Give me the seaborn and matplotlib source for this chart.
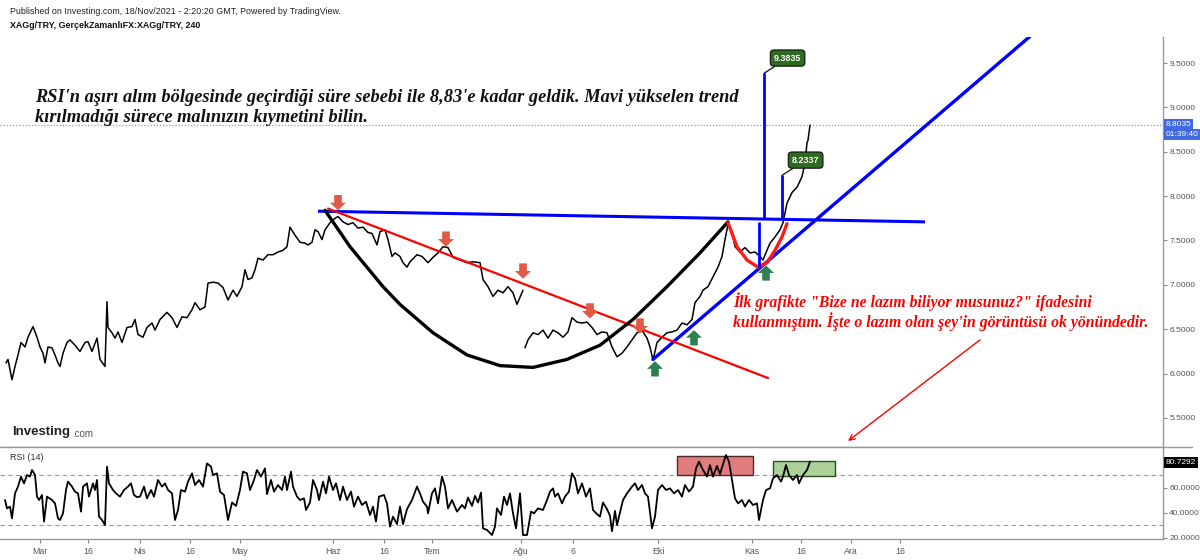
import pandas as pd
import matplotlib
matplotlib.use("Agg")
import matplotlib.pyplot as plt
import seaborn as sns
from matplotlib.lines import Line2D

# ---- price (4h closes; x = bar position on the time axis)
price_bar = [6, 8, 12, 15, 18, 21, 25, 28, 33, 37, 40, 43, 45, 48, 52, 55, 58, 60, 63, 67,
             70, 75, 80, 85, 88, 92, 97, 100, 105, 107, 108, 112, 115, 118, 122, 127, 132, 135, 138, 143,
             147, 152, 155, 160, 167, 172, 177, 182, 187, 192, 195, 200, 205, 208, 213, 218, 223, 228, 233, 237,
             242, 245, 248, 252, 255, 258, 263, 268, 273, 278, 283, 287, 290, 295, 300, 305, 308, 312, 315, 318,
             322, 325, 330, 335, 338, 343, 348, 353, 358, 363, 368, 372, 377, 380, 385, 388, 392, 395, 400, 403,
             407, 410, 417, 422, 428, 433, 438, 443, 448, 453, 460, 467, 473, 480, 483, 488, 493, 498, 503, 508,
             513, 517, 520, 523, 525, 528, 533, 538, 543, 548, 553, 558, 563, 568, 572, 577, 582, 587, 592, 597,
             602, 607, 612, 617, 622, 627, 632, 637, 642, 647, 650, 653, 657, 662, 667, 672, 677, 682, 687, 692,
             695, 700, 703, 708, 713, 718, 722, 725, 728, 732, 735, 740, 745, 750, 755, 760, 763, 767, 770, 775,
             780, 783, 787, 792, 797, 802, 805, 807, 808, 810]
price_close = [6.12, 6.16, 5.93, 6.08, 6.21, 6.35, 6.30, 6.41, 6.53, 6.41, 6.30, 6.23, 6.12, 6.30, 6.29, 6.21, 6.12, 6.08, 6.23, 6.35,
               6.38, 6.32, 6.25, 6.35, 6.36, 6.25, 6.40, 6.16, 6.08, 6.81, 6.52, 6.46, 6.40, 6.47, 6.35, 6.52, 6.53, 6.61, 6.44, 6.41,
               6.52, 6.57, 6.49, 6.61, 6.69, 6.63, 6.52, 6.64, 6.63, 6.72, 6.80, 6.72, 6.75, 7.02, 7.03, 7.02, 6.97, 6.83, 6.94, 6.87,
               6.98, 7.17, 7.06, 7.08, 7.17, 7.30, 7.28, 7.34, 7.34, 7.37, 7.39, 7.43, 7.65, 7.56, 7.48, 7.47, 7.45, 7.48, 7.62, 7.60,
               7.51, 7.62, 7.70, 7.75, 7.77, 7.71, 7.68, 7.70, 7.64, 7.65, 7.59, 7.58, 7.45, 7.60, 7.62, 7.51, 7.32, 7.36, 7.32, 7.25,
               7.20, 7.26, 7.34, 7.32, 7.25, 7.31, 7.36, 7.43, 7.42, 7.31, 7.28, 7.25, 7.26, 7.25, 7.06, 6.98, 6.87, 6.94, 6.91, 6.98,
               6.91, 6.78, 6.86, 6.94, 6.29, 6.38, 6.46, 6.44, 6.49, 6.40, 6.49, 6.46, 6.41, 6.47, 6.63, 6.58, 6.57, 6.58, 6.52, 6.44,
               6.47, 6.46, 6.30, 6.19, 6.23, 6.30, 6.38, 6.46, 6.49, 6.40, 6.30, 6.15, 6.35, 6.41, 6.46, 6.47, 6.49, 6.57, 6.55, 6.61,
               6.80, 6.87, 6.94, 6.98, 7.09, 7.20, 7.32, 7.51, 7.68, 7.60, 7.43, 7.37, 7.42, 7.36, 7.37, 7.32, 7.28, 7.39, 7.47, 7.54,
               7.62, 7.70, 7.92, 8.04, 8.10, 8.22, 8.37, 8.60, 8.63, 8.80]
last_price = 8.8035
data_gap_after = 523  # missing bars end of July

# ---- RSI(14)
rsi_bar = [5, 7, 10, 12, 15, 18, 21, 24, 27, 30, 32, 35, 37, 39, 42, 44, 47, 52, 55, 58,
           60, 63, 66, 68, 72, 75, 78, 81, 83, 87, 89, 93, 95, 97, 99, 102, 105, 107, 109, 113,
           116, 120, 124, 128, 131, 134, 137, 140, 144, 147, 151, 154, 158, 162, 165, 168, 172, 175, 178, 181,
           185, 188, 192, 195, 199, 203, 207, 211, 213, 217, 220, 224, 228, 232, 236, 240, 243, 247, 250, 254,
           257, 261, 265, 267, 271, 274, 278, 282, 285, 287, 291, 293, 297, 300, 304, 306, 310, 313, 317, 319,
           323, 326, 329, 333, 336, 340, 343, 347, 351, 354, 358, 362, 366, 370, 373, 376, 379, 384, 387, 390,
           393, 397, 400, 403, 407, 412, 417, 420, 423, 427, 428, 432, 435, 438, 442, 445, 448, 452, 457, 462,
           465, 468, 472, 475, 478, 481, 483, 487, 492, 495, 497, 501, 504, 507, 510, 513, 516, 520, 523, 527,
           531, 534, 538, 543, 547, 550, 553, 555, 558, 562, 565, 569, 572, 575, 578, 582, 586, 590, 593, 597,
           600, 603, 607, 610, 612, 615, 617, 621, 623, 627, 632, 635, 638, 642, 645, 648, 652, 655, 658, 662,
           666, 670, 674, 678, 682, 685, 689, 693, 696, 699, 703, 707, 710, 713, 717, 720, 723, 726, 729, 732,
           735, 738, 742, 745, 749, 753, 757, 759, 763, 766, 770, 773, 777, 781, 783, 786, 789, 793, 797, 799,
           803, 807, 810]
rsi_value = [50, 43.3, 44.7, 35.3, 55.3, 60.7, 68.7, 63.3, 70, 68.7, 74, 70, 52.7, 50, 54, 32.7, 52.7, 50, 47.3, 35.3,
             34, 39.3, 58, 64.7, 60.7, 56.7, 55.3, 40.7, 60.7, 63.3, 52.7, 63.3, 58, 66, 36.7, 34, 30, 76.7, 63.3, 58,
             55.3, 52.7, 58, 60.7, 63.3, 54, 52.3, 52.7, 60.7, 51.3, 58, 52.7, 66, 60.7, 63.3, 58, 55.3, 34, 42, 58,
             56.7, 64.7, 71.3, 62, 66, 60.7, 79.3, 76.7, 70, 71.3, 56.7, 54, 34, 48, 45.3, 58, 72.7, 71.3, 58, 66,
             74, 68.7, 75.3, 54.7, 66, 56.7, 62, 58, 68.7, 58, 72.7, 60.7, 52.7, 50, 51.3, 42, 48, 66, 58, 50,
             64.7, 55.3, 68.7, 58, 63.3, 50, 60.7, 50, 56.7, 44.7, 52.7, 46, 48.7, 38, 44.7, 32.7, 52.7, 54, 47.3, 28.7,
             36.7, 30.7, 44.7, 30.7, 42.7, 50, 60.7, 55.3, 48.7, 44.7, 39.3, 55.3, 59.3, 47.3, 68.7, 60.7, 43.3, 50, 40.7, 46,
             43.3, 52, 45.3, 53.3, 48, 56, 27.3, 26, 22, 28.7, 43.3, 38, 52.7, 46, 55.3, 39.3, 27.3, 55.3, 22, 22,
             40.7, 39.3, 43.3, 42, 50, 56.7, 59.3, 52.7, 55.3, 47.3, 52.7, 56.7, 71.3, 67.3, 55.3, 63.3, 52.7, 59.3, 42, 38.7,
             36.7, 48, 42.7, 37.3, 25, 41.3, 30, 43.3, 50, 55.3, 60.7, 63.3, 58, 62, 55.3, 52.7, 27.3, 36.7, 58, 62,
             58, 59.3, 55.3, 58, 52.7, 62, 56.7, 60.7, 75.3, 80.7, 74, 68.7, 78, 68.7, 77.3, 70.7, 78.7, 86, 80.7, 66,
             51.3, 47.3, 50, 44.7, 50, 46, 47.3, 34, 50, 58, 59.3, 67.3, 70, 64.7, 68.7, 78, 70, 66, 70, 63.3,
             70, 74, 80.7]
last_rsi = 80.7292

# ---- time axis labels (Turkish month abbreviations)
tick_bar = [40, 88, 140, 190, 240, 333, 384, 432, 521, 573, 658, 752, 801, 851, 900]
tick_label = ["Mar", "16", "Nis", "16", "May", "Haz", "16", "Tem", "Ağu", "6", "Eki", "Kas", "16", "Ara", "16"]
price_ticks = [5.5, 6.0, 6.5, 7.0, 7.5, 8.0, 8.5, 9.0, 9.5]
rsi_ticks = [20, 40, 60]

# ---- drawings on the chart
neck_bar, neck_price = [318, 925], [7.83, 7.71]          # blue neckline
trend_bar, trend_price = [653, 1030], [6.16, 9.80]       # blue rising trend
down_bar, down_price = [328, 768], [7.86, 5.95]          # red falling trend
cup_bar = [325, 350, 383, 400, 433, 467, 500, 533, 567, 600, 633, 667, 700, 728]
cup_price = [7.84, 7.43, 6.98, 6.78, 6.46, 6.21, 6.09, 6.07, 6.16, 6.32, 6.61, 6.98, 7.36, 7.71]
handle_bar = [728, 737, 747, 758, 767, 775, 782, 787]
handle_price = [7.70, 7.43, 7.28, 7.20, 7.25, 7.39, 7.54, 7.69]
measure_bar = [759, 764, 782]
measure_low = [7.20, 7.74, 7.74]
measure_high = [7.71, 9.3835, 8.2337]
sell_bar = [338, 446, 523, 590, 640]
sell_tip = [7.84, 7.43, 7.07, 6.62, 6.45]
buy_bar = [655, 694, 766]
buy_tip = [6.14, 6.49, 7.22]
red_zone = (677, 753, 69.8, 85.3)     # x0, x1, y0, y1 in RSI panel
green_zone = (773, 835, 69.0, 81.2)

W, H = 1200, 560


def fx(px):
    return px / W


def fy(py):
    return 1 - py / H


sns.set_style("white")
plt.rcParams['font.family'] = ['Liberation Sans', 'DejaVu Sans']

fig = plt.figure(figsize=(12, 5.6), dpi=100)
ax = fig.add_axes([0, fy(447), fx(1163), (447 - 37) / H])
ax_rsi = fig.add_axes([0, fy(539), fx(1163), (539 - 447) / H])

df_price = pd.DataFrame({'bar': price_bar, 'close': price_close})
df_price['seg'] = (df_price['bar'] > data_gap_after).astype(int)
sns.lineplot(data=df_price, x='bar', y='close', units='seg', estimator=None,
             color='black', lw=1.1, ax=ax, legend=False)

ax.axhline(last_price, color='#7d9be6', lw=0.9, ls=(0, (1, 1.5)), zorder=1)

# trend lines and patterns
ax.plot(neck_bar, neck_price, color='#0000ff', lw=2.2, solid_capstyle='butt')
ax.plot(trend_bar, trend_price, color='#0000ff', lw=2.4)
ax.plot(down_bar, down_price, color='#ff0000', lw=1.6)
ax.plot(cup_bar, cup_price, color='black', lw=2.4, solid_capstyle='round')
ax.plot(handle_bar, handle_price, color='#ff1a1a', lw=2.4, solid_capstyle='round')
ax.vlines(measure_bar, measure_low, measure_high, color='#0000ff', lw=2.0)
for b, hi in zip(measure_bar[1:], measure_high[1:]):
    ax.annotate(f"{hi:.4f}", xy=(b, hi), xytext=(17, 11), textcoords='offset points',
                ha='center', va='center', fontsize=6.5, color='white', fontweight='bold',
                bbox=dict(boxstyle='round,pad=0.4', fc='#2e6a1f', ec='#111111', lw=0.8),
                arrowprops=dict(arrowstyle='-', color='#222222', lw=1.0, shrinkA=0, shrinkB=0))

arrow_style = 'simple,head_length=0.55,head_width=1.15,tail_width=0.55'
for b, tip in zip(sell_bar, sell_tip):
    ax.annotate('', xy=(b, tip), xytext=(0, 11), textcoords='offset points',
                arrowprops=dict(arrowstyle=arrow_style, fc='#e05a45', ec='none',
                                mutation_scale=10, shrinkA=0, shrinkB=0))
for b, tip in zip(buy_bar, buy_tip):
    ax.annotate('', xy=(b, tip), xytext=(0, -11), textcoords='offset points',
                arrowprops=dict(arrowstyle=arrow_style, fc='#2f8050', ec='none',
                                mutation_scale=10, shrinkA=0, shrinkB=0))

ax.annotate('', xy=(848, 5.24), xytext=(980, 6.38),
            arrowprops=dict(arrowstyle='->', color='#ff0000', lw=1.0, shrinkA=0, shrinkB=0))

ax.set_xlim(0, 1163)
ax.set_ylim(5.173, 9.793)
ax.set_xticks([])
ax.set_yticks(price_ticks)
ax.set_yticklabels([f"{v:.4f}" for v in price_ticks])
ax.yaxis.tick_right()
ax.tick_params(axis='y', labelsize=6.0, labelcolor='#555555', color='#888888',
               length=3, width=0.8, pad=1.5, right=True)
ax.set_xlabel('')
ax.set_ylabel('')
for s in ['top', 'left']:
    ax.spines[s].set_visible(False)
for s in ['right', 'bottom']:
    ax.spines[s].set_color('#999999')
    ax.spines[s].set_linewidth(1.0)

# RSI panel
df_rsi = pd.DataFrame({'bar': rsi_bar, 'rsi': rsi_value})
sns.lineplot(data=df_rsi, x='bar', y='rsi', color='black', lw=1.3, ax=ax_rsi)
for lvl in [70, 30]:
    ax_rsi.axhline(lvl, color='#999999', lw=0.8, ls=(0, (4, 3)), zorder=0)
for (x0, x1, y0, y1), fc, ec in [(red_zone, '#e27d7d', '#4a2a2a'), (green_zone, '#acd29a', '#2f4a25')]:
    ax_rsi.add_patch(plt.Rectangle((x0, y0), x1 - x0, y1 - y0, fc=fc, ec=ec, lw=1.0, zorder=1))
ax_rsi.set_xlim(0, 1163)
ax_rsi.set_ylim(18.8, 92.4)
ax_rsi.set_yticks(rsi_ticks)
ax_rsi.set_yticklabels([f"{v:.4f}" for v in rsi_ticks])
ax_rsi.yaxis.tick_right()
ax_rsi.set_xticks(tick_bar)
ax_rsi.set_xticklabels(tick_label)
ax_rsi.tick_params(axis='both', labelsize=6.0, labelcolor='#555555', color='#888888',
                   length=3, width=0.8, pad=1.5)
ax_rsi.tick_params(axis='y', right=True, left=False)
ax_rsi.tick_params(axis='x', bottom=True, pad=3, labelsize=6.3)
ax_rsi.set_xlabel('')
ax_rsi.set_ylabel('')
for s in ['top', 'left']:
    ax_rsi.spines[s].set_visible(False)
for s in ['right', 'bottom']:
    ax_rsi.spines[s].set_color('#999999')
    ax_rsi.spines[s].set_linewidth(1.0)

# separator between panels
fig.add_artist(Line2D([0, fx(1192)], [fy(447), fy(447)], color='#999999', lw=1.0))

# price / rsi tags on the axis
tag = dict(fontsize=6.0, color='white', va='center')
fig.text(fx(1166), fy(124.5), f"{last_price:.4f}", bbox=dict(boxstyle='square,pad=0.2', fc='#4169e1', ec='none'), **tag)
fig.text(fx(1166), fy(134.5), "01:39:40", bbox=dict(boxstyle='square,pad=0.2', fc='#4169e1', ec='none'), **tag)
fig.text(fx(1166), fy(462.5), f"{last_rsi:.4f}", bbox=dict(boxstyle='square,pad=0.2', fc='black', ec='none'), **tag)

# header and labels
fig.text(fx(10), fy(12), "Published on Investing.com, 18/Nov/2021 - 2:20:20 GMT, Powered by TradingView.",
         fontsize=6.4, color='#222222', va='center')
fig.text(fx(10), fy(26), "XAGg/TRY, GerçekZamanlıFX:XAGg/TRY, 240",
         fontsize=6.4, color='#111111', fontweight='bold', va='center')
fig.text(fx(10), fy(458), "RSI (14)", fontsize=6.5, color='#333333', va='center')
fig.text(fx(12), fy(432), "Investing", fontsize=9.5, color='#222222', fontweight='bold', va='center')
fig.text(fx(72), fy(434), ".com", fontsize=7, color='#555555', va='center')

serif = ['Liberation Serif', 'DejaVu Serif']
fig.text(fx(35), fy(97), "RSI'n aşırı alım bölgesinde geçirdiği süre sebebi ile 8,83'e kadar geldik. Mavi yükselen trend",
         fontsize=13.2, family=serif, style='italic', fontweight='bold', color='#111111', va='center')
fig.text(fx(35), fy(117), "kırılmadığı sürece malınızın kıymetini bilin.",
         fontsize=13.2, family=serif, style='italic', fontweight='bold', color='#111111', va='center')
fig.text(fx(733), fy(302), "İlk grafikte \"Bize ne lazım biliyor musunuz?\" ifadesini",
         fontsize=11.3, family=serif, style='italic', fontweight='bold', color='#ff0000', va='center')
fig.text(fx(733), fy(322), "kullanmıştım. İşte o lazım olan şey'in görüntüsü ok yönündedir.",
         fontsize=11.3, family=serif, style='italic', fontweight='bold', color='#ff0000', va='center')

fig.savefig("out.png", dpi=100, facecolor='white')
